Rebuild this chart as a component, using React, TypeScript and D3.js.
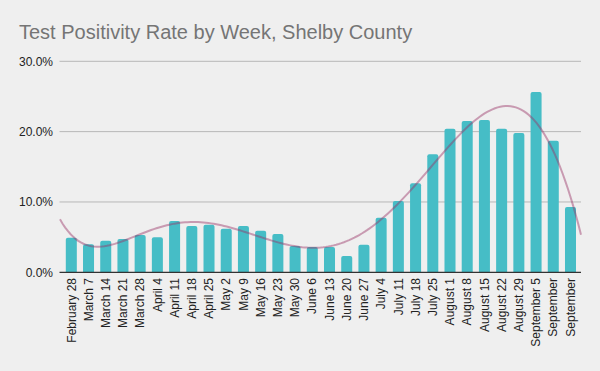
import React from "react";
import * as d3 from "d3";

const weeks = [
  "February 28", "March 7", "March 14", "March 21", "March 28", "April 4",
  "April 11", "April 18", "April 25", "May 2", "May 9", "May 16", "May 23",
  "May 30", "June 6", "June 13", "June 20", "June 27", "July 4", "July 11",
  "July 18", "July 25", "August 1", "August 8", "August 15", "August 22",
  "August 29", "September 5", "September", "September",
];
const positivity = [
  4.9, 4.0, 4.5, 4.75, 5.3, 5.0, 7.3, 6.6, 6.75, 6.2, 6.6, 5.9, 5.45, 3.75,
  3.6, 3.6, 2.3, 3.9, 7.75, 10.15, 12.66, 16.8, 20.4, 21.5, 21.65, 20.4, 19.8,
  25.65, 18.7, 9.3,
];
const yTicks = [0, 10, 20, 30];
const title = "Test Positivity Rate by Week, Shelby County";
const trendDegree = 6;

function polyFit(xs: number[], ys: number[], deg: number): number[] {
  const n = deg + 1;
  const A: number[][] = Array.from({ length: n }, () => new Array(n + 1).fill(0));
  for (let k = 0; k < xs.length; k++) {
    const pw: number[] = [];
    let p = 1;
    for (let i = 0; i <= 2 * deg; i++) { pw.push(p); p *= xs[k]; }
    for (let i = 0; i < n; i++) {
      for (let j = 0; j < n; j++) A[i][j] += pw[i + j];
      A[i][n] += pw[i] * ys[k];
    }
  }
  for (let c = 0; c < n; c++) {
    let piv = c;
    for (let r = c + 1; r < n; r++) if (Math.abs(A[r][c]) > Math.abs(A[piv][c])) piv = r;
    [A[c], A[piv]] = [A[piv], A[c]];
    for (let r = 0; r < n; r++) {
      if (r === c) continue;
      const f = A[r][c] / A[c][c];
      for (let j = c; j <= n; j++) A[r][j] -= f * A[c][j];
    }
  }
  return A.map((row, i) => row[n] / row[i]);
}

export default function App() {
  const W = 600, H = 371;
  const x = d3.scaleBand<number>()
    .domain(d3.range(weeks.length))
    .range([62.7, 579.1])
    .paddingInner(0.36)
    .paddingOuter(0.18);
  const y = d3.scaleLinear().domain([0, 30]).range([272.3, 61.3]);
  const bw = x.bandwidth();
  const step = x.step();
  const cx = (i: number) => (x(i) as number) + bw / 2;

  const N = weeks.length;
  const norm = (i: number) => (i - (N - 1) / 2) / ((N - 1) / 2);
  const coef = polyFit(d3.range(N).map(norm), positivity, trendDegree);
  const evalP = (t: number) => coef.reduce((s, c, k) => s + c * Math.pow(t, k), 0);
  const xLeft = 60, xRight = 581;
  const idxOf = (px: number) => (px - cx(0)) / step;
  const pts: [number, number][] = d3.range(0, 201).map((k) => {
    const px = xLeft + (xRight - xLeft) * (k / 200);
    return [px, y(evalP(norm(idxOf(px))))];
  });
  const line = d3.line()(pts) as string;

  const r = 2;
  const barPath = (i: number) => {
    const x0 = x(i) as number, x1 = x0 + bw;
    const yt = y(positivity[i]), yb = y(0);
    return `M${x0},${yb}V${yt + r}Q${x0},${yt} ${x0 + r},${yt}H${x1 - r}Q${x1},${yt} ${x1},${yt + r}V${yb}Z`;
  };

  return (
    <svg width={W} height={H} style={{ position: "absolute", left: 0, top: 0, background: "#efefef" }}
      fontFamily="'Liberation Sans', Arial, sans-serif">
      <rect x={0} y={0} width={W} height={H} fill="#efefef" />
      <text x={19} y={38.5} fontSize={20} fill="#757575">{title}</text>
      {yTicks.map((t) => (
        <g key={t}>
          {t > 0 && <line x1={59.5} x2={581} y1={y(t)} y2={y(t)} stroke="#b7b7b7" strokeWidth={1} />}
          <text x={53} y={y(t)} dy="0.35em" textAnchor="end" fontSize={12} fill="#222">
            {t.toFixed(1)}%
          </text>
        </g>
      ))}
      {positivity.map((_, i) => (
        <path key={i} d={barPath(i)} fill="#46bdc6" />
      ))}
      <line x1={59.5} x2={581} y1={y(0)} y2={y(0)} stroke="#333" strokeWidth={1.2} />
      <path d={line} fill="none" stroke="#993366" strokeOpacity={0.45} strokeWidth={2} />
      {weeks.map((w, i) => (
        <text key={i} transform={`translate(${cx(i)},278) rotate(-90)`} textAnchor="end"
          dy="0.35em" fontSize={12} fill="#222">{w}</text>
      ))}
    </svg>
  );
}
